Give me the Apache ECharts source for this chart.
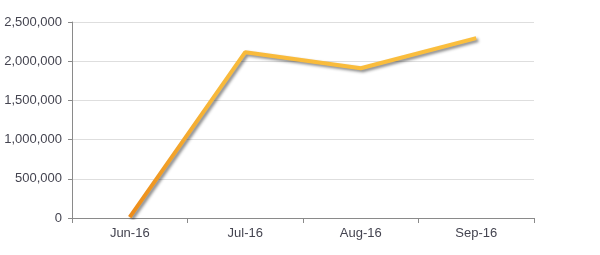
<!DOCTYPE html>
<html>
<head>
<meta charset="utf-8">
<script src="https://cdn.jsdelivr.net/npm/echarts@6/dist/echarts.min.js"></script>
<style>
  html, body { margin: 0; padding: 0; background: #fff; }
  #chart { width: 600px; height: 255px; }
</style>
</head>
<body>
<div id="chart"></div>
<script>
var months = ['Jun-16', 'Jul-16', 'Aug-16', 'Sep-16'];
var amounts = [10000, 2115000, 1910000, 2295000];

var chart = echarts.init(document.getElementById('chart'), null, { renderer: 'canvas' });

var option = {
  animation: false,
  grid: { left: 72, right: 66, top: 22, bottom: 37 },
  xAxis: {
    type: 'category',
    data: months,
    boundaryGap: true,
    axisLine: { lineStyle: { color: '#8a8a8a', width: 1 } },
    axisTick: { show: true, length: 5, lineStyle: { color: '#8a8a8a' } },
    axisLabel: { color: '#444450', fontSize: 13, fontFamily: 'Liberation Sans', margin: 9 }
  },
  yAxis: {
    type: 'value',
    min: 0,
    max: 2500000,
    interval: 500000,
    axisLine: { show: true, lineStyle: { color: '#8a8a8a' } },
    axisTick: { show: true, length: 4, lineStyle: { color: '#8a8a8a' } },
    splitLine: { lineStyle: { color: '#dedede' } },
    axisLabel: {
      color: '#444450', fontSize: 13, fontFamily: 'Liberation Sans', margin: 10,
      formatter: function (v) { return v.toLocaleString('en-US'); }
    }
  },
  series: [{
    type: 'line',
    data: amounts,
    symbol: 'none',
    lineStyle: {
      width: 4,
      // 橙到黄的渐变
      color: new echarts.graphic.LinearGradient(0, 0, 1, 0, [
        { offset: 0, color: '#EC8A18' },
        { offset: 0.25, color: '#F8B93A' },
        { offset: 1, color: '#FBBF3E' }
      ]),
      shadowColor: 'rgba(0,0,0,0.45)',
      shadowBlur: 3,
      shadowOffsetX: 2,
      shadowOffsetY: 2
    }
  }]
};

chart.setOption(option);
</script>
</body>
</html>
